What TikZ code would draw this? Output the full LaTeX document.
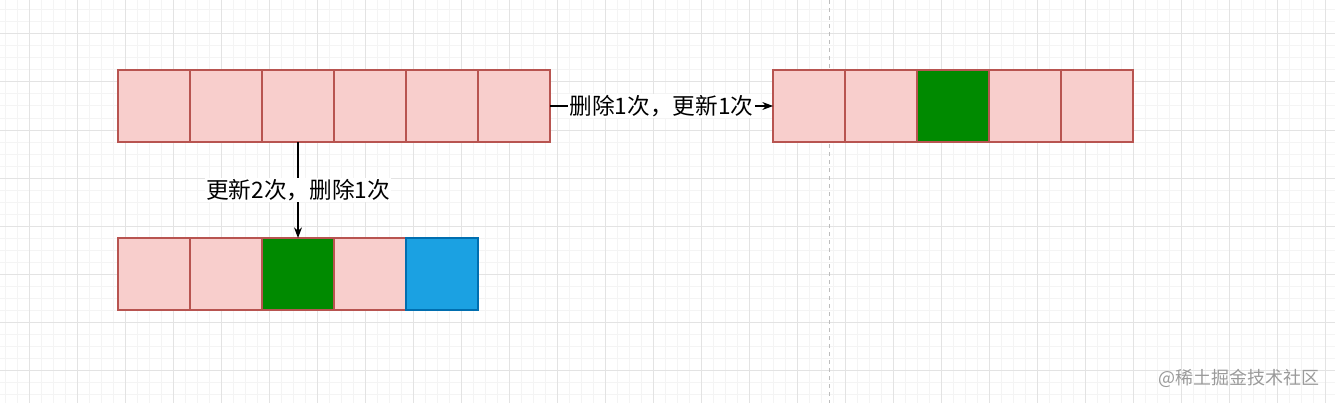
\documentclass[tikz,border=0pt]{standalone}
\usepackage{fontspec}
\setmainfont{Noto Sans CJK SC}
\usepackage{tikz}
\usetikzlibrary{arrows.meta,positioning}
\definecolor{cellfill}{HTML}{F8CECC}
\definecolor{celldraw}{HTML}{B85450}
\definecolor{keepfill}{HTML}{008A00}
\definecolor{newfill}{HTML}{1BA1E2}
\definecolor{newdraw}{HTML}{006EAF}
\definecolor{gridminor}{HTML}{F4F4F4}
\definecolor{gridmajor}{HTML}{E3E3E3}
\definecolor{pageline}{HTML}{BDBDBD}
\definecolor{wmark}{HTML}{9A9A9A}
\tikzset{
  cell/.style={draw=celldraw, fill=cellfill, line width=1pt, minimum size=54pt,
               inner sep=0pt, outer sep=0pt},
  keep/.style={cell, fill=keepfill},
  fresh/.style={cell, fill=newfill, draw=newdraw},
  arr/.style={-{Stealth[length=8pt,width=6pt]}, line width=0.8pt, draw=black},
  lbl/.style={fill=white, inner sep=1pt, font=\fontsize{17pt}{19pt}\selectfont},
}

\begin{document}
\begin{tikzpicture}[x=0.75pt, y=-0.75pt]
  \useasboundingbox (0,0) rectangle (1335,403);
  % grid
  \foreach \gx in {5,17,...,1335} \draw[gridminor, line width=0.75pt] (\gx,0) -- (\gx,403);
  \foreach \gy in {10,22,...,403} \draw[gridminor, line width=0.75pt] (0,\gy) -- (1335,\gy);
  \foreach \gx in {29,77,...,1335} \draw[gridmajor, line width=0.75pt] (\gx,0) -- (\gx,403);
  \foreach \gy in {34,82,...,403} \draw[gridmajor, line width=0.75pt] (0,\gy) -- (1335,\gy);
  \draw[pageline, dashed, line width=0.75pt] (829.5,0) -- (829.5,403);

  % original array
  \node[cell, anchor=north west] (a1) at (118,70) {};
  \node[cell, right=0pt of a1] (a2) {};
  \node[cell, right=0pt of a2] (a3) {};
  \node[cell, right=0pt of a3] (a4) {};
  \node[cell, right=0pt of a4] (a5) {};
  \node[cell, right=0pt of a5] (a6) {};

  % after delete + update
  \node[cell, anchor=north west] (b1) at (773,70) {};
  \node[cell, right=0pt of b1] (b2) {};
  \node[keep, right=0pt of b2] (b3) {};
  \node[cell, right=0pt of b3] (b4) {};
  \node[cell, right=0pt of b4] (b5) {};

  % after update + delete
  \node[cell, anchor=north west] (c1) at (118,238) {};
  \node[cell, right=0pt of c1] (c2) {};
  \node[keep, right=0pt of c2] (c3) {};
  \node[cell, right=0pt of c3] (c4) {};
  \node[fresh, right=0pt of c4] (c5) {};

  \draw[arr] (a6.east) -- node[lbl] {删除1次，更新1次} (b1.west);
  \draw[arr] (a3.south) -- node[lbl] {更新2次，删除1次} (c3.north);

  \node[text=wmark, anchor=east, font=\fontsize{13.5pt}{15pt}\selectfont] (wm) at (1324,378) {@稀土掘金技术社区};
\end{tikzpicture}
\end{document}
